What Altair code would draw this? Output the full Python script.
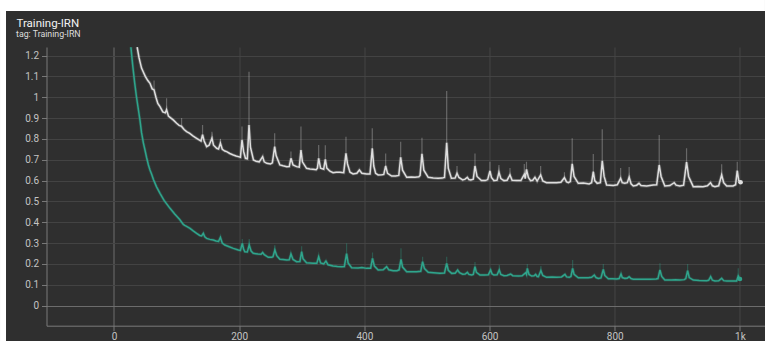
import altair as alt
import pandas as pd

# ---------------- data ----------------
white_steps = [
    37, 40, 44, 47, 50, 54, 57.5, 61, 64, 67,
    70, 73.5, 78, 82, 84, 87, 91, 95, 100, 104,
    108, 112, 116, 121, 126, 132, 136, 139, 141.5, 144,
    148, 152, 156.5, 159, 164, 167, 170, 173, 177, 180,
    185, 190.6, 195, 198.6, 202, 204.5, 207, 210, 213, 215.7,
    218, 222.8, 227, 232, 237.5, 240, 244, 250, 253, 256.7,
    259, 265, 270, 276, 280, 282.7, 286, 291.7, 296, 298.7,
    301, 307.6, 313, 318, 323, 325, 327, 330, 335, 337.6,
    340, 345, 350, 355, 361, 367, 370.6, 373, 377, 382,
    388, 392, 396, 403.6, 409, 412.6, 415, 418, 422, 428,
    431, 434, 437, 443.6, 450, 455, 458, 461, 467.6, 475,
    481, 487, 489, 492, 495, 502, 510, 518, 524, 528,
    531.5, 534, 539, 545, 548, 551, 557, 561, 564.5, 567,
    570, 574, 576.7, 580, 587, 593, 597, 600.6, 603, 607,
    612, 615, 618, 623, 628, 632.6, 636, 643, 650, 655.5,
    657, 659, 662, 665.5, 669, 672.5, 676, 681.6, 685, 691,
    700, 707, 714, 719.6, 723, 726, 729, 732, 735, 741.7,
    750, 759, 763, 765.7, 768, 772, 777, 780, 783, 787,
    792, 797.6, 804, 809.4, 812, 816, 820, 823, 826, 829.6,
    835, 838.7, 842, 851, 861.5, 867, 871, 874, 880, 888,
    895, 898, 904, 910, 914.7, 918, 925.4, 933, 941, 948,
    953, 956, 960, 966, 970.8, 974, 978.8, 985, 989, 993,
    995.7, 998, 1001,
]
white_values = [
    1.24, 1.19, 1.14, 1.12, 1.10, 1.08, 1.067, 1.04, 1.035, 1.0,
    0.97, 0.955, 0.93, 0.925, 0.94, 0.91, 0.9, 0.89, 0.875, 0.865,
    0.86, 0.845, 0.835, 0.827, 0.815, 0.803, 0.795, 0.79, 0.82, 0.79,
    0.763, 0.77, 0.803, 0.77, 0.755, 0.752, 0.779, 0.75, 0.742, 0.739,
    0.73, 0.723, 0.718, 0.715, 0.712, 0.795, 0.74, 0.707, 0.705, 0.867,
    0.76, 0.699, 0.693, 0.69, 0.715, 0.69, 0.683, 0.68, 0.685, 0.763,
    0.72, 0.675, 0.671, 0.667, 0.668, 0.707, 0.675, 0.667, 0.665, 0.747,
    0.69, 0.659, 0.656, 0.654, 0.652, 0.66, 0.707, 0.66, 0.655, 0.702,
    0.66, 0.645, 0.638, 0.64, 0.64, 0.638, 0.731, 0.68, 0.64, 0.632,
    0.635, 0.651, 0.635, 0.632, 0.632, 0.755, 0.67, 0.635, 0.627, 0.628,
    0.63, 0.67, 0.635, 0.622, 0.622, 0.625, 0.712, 0.65, 0.616, 0.617,
    0.616, 0.618, 0.625, 0.728, 0.65, 0.616, 0.613, 0.611, 0.612, 0.615,
    0.782, 0.66, 0.611, 0.612, 0.635, 0.615, 0.603, 0.607, 0.616, 0.605,
    0.603, 0.607, 0.67, 0.62, 0.6, 0.6, 0.605, 0.646, 0.615, 0.6,
    0.602, 0.64, 0.61, 0.6, 0.602, 0.627, 0.602, 0.6, 0.6, 0.63,
    0.61, 0.654, 0.615, 0.6, 0.602, 0.616, 0.598, 0.627, 0.598, 0.59,
    0.59, 0.59, 0.592, 0.614, 0.594, 0.59, 0.595, 0.68, 0.62, 0.587,
    0.588, 0.584, 0.59, 0.643, 0.6, 0.587, 0.59, 0.695, 0.62, 0.579,
    0.578, 0.577, 0.58, 0.611, 0.59, 0.587, 0.59, 0.616, 0.585, 0.574,
    0.578, 0.587, 0.576, 0.574, 0.579, 0.58, 0.675, 0.62, 0.574, 0.576,
    0.59, 0.578, 0.574, 0.578, 0.689, 0.62, 0.571, 0.572, 0.571, 0.575,
    0.59, 0.575, 0.571, 0.575, 0.627, 0.59, 0.574, 0.574, 0.574, 0.58,
    0.648, 0.6, 0.592,
]
white_raw_spike_steps = [64, 84, 108, 141.5, 156.5, 170, 204.5, 215.7, 256.7, 282.7,
                         298.7, 327, 337.6, 370.6, 412.6, 434, 458, 492, 531.5, 548,
                         576.7, 600.6, 615, 632.6, 655.5, 659, 681.6, 719.6, 732, 765.7,
                         780, 809.4, 823, 871, 914.7, 970.8, 995.7]
white_raw_spike_values = [1.08, 0.995, 0.9, 0.867, 0.835, 0.80, 0.859, 1.122, 0.827, 0.74,
                          0.859, 0.771, 0.77, 0.811, 0.851, 0.73, 0.787, 0.806, 1.03, 0.67,
                          0.73, 0.69, 0.675, 0.66, 0.68, 0.69, 0.67, 0.64, 0.803, 0.728,
                          0.846, 0.66, 0.665, 0.819, 0.755, 0.678, 0.69]

teal_steps = [
    27, 30, 33, 36, 39, 41.5, 44, 47, 49.5, 52,
    55, 57.5, 60, 63, 68, 73.5, 80, 89.5, 97, 105,
    110.7, 113, 116, 121.4, 126, 132, 137, 140, 142.7, 145,
    148, 153, 158.7, 163, 167, 170, 173, 177, 183, 190.6,
    198.6, 202, 205, 207, 209, 213, 216, 219, 222.5, 230,
    235, 237.5, 240, 246.5, 252, 254, 257, 260, 265, 270,
    276, 280, 282.7, 286, 291.7, 297, 299.8, 302, 307.6, 313,
    318, 324, 327, 330, 335, 338.6, 342, 350, 357, 363.7,
    368, 371.6, 374, 379.7, 390, 396, 403.6, 410, 413, 416,
    422, 430, 435.6, 439, 446, 452, 455.5, 458.5, 461, 467.6,
    475, 483.5, 490, 493, 496, 502, 510, 520.8, 528, 531.5,
    534, 539.5, 545, 549, 552, 557, 561, 564.5, 567, 571.4,
    574, 576.7, 579, 584.7, 592, 598, 601.7, 604, 607, 612,
    615.5, 618, 623, 628, 633.7, 637, 646, 652, 657.7, 659,
    660.3, 663, 667.3, 671, 673.6, 676, 678, 682, 685, 691,
    700, 707, 715, 720.4, 723, 727.3, 730, 732.7, 735, 741.7,
    750, 757.7, 763, 767.3, 770, 773.7, 778, 781.7, 784, 789.7,
    796, 803, 807, 810, 812, 816.3, 820, 823, 826, 829.6,
    840, 848, 856, 866, 869, 872.2, 875, 880, 890, 897,
    904, 911, 913.5, 916.4, 919, 925.4, 935, 946.8, 950, 953.2,
    956, 960, 966, 970.8, 974, 978.8, 986, 994.7, 997.3, 1000,
]
teal_values = [
    1.24, 1.15, 1.07, 1.0, 0.94, 0.89, 0.83, 0.78, 0.747, 0.712,
    0.675, 0.651, 0.632, 0.605, 0.57, 0.539, 0.505, 0.467, 0.44, 0.413,
    0.39, 0.385, 0.38, 0.371, 0.36, 0.347, 0.337, 0.335, 0.347, 0.33,
    0.323, 0.318, 0.315, 0.31, 0.308, 0.328, 0.30, 0.291, 0.284, 0.275,
    0.267, 0.265, 0.299, 0.272, 0.259, 0.258, 0.291, 0.262, 0.251, 0.248,
    0.247, 0.255, 0.245, 0.232, 0.232, 0.235, 0.267, 0.24, 0.223, 0.221,
    0.219, 0.22, 0.248, 0.222, 0.211, 0.212, 0.259, 0.225, 0.206, 0.205,
    0.203, 0.203, 0.235, 0.205, 0.2, 0.214, 0.196, 0.19, 0.188, 0.187,
    0.188, 0.25, 0.205, 0.182, 0.181, 0.183, 0.179, 0.18, 0.227, 0.19,
    0.171, 0.172, 0.187, 0.172, 0.168, 0.168, 0.172, 0.222, 0.185, 0.163,
    0.163, 0.163, 0.165, 0.211, 0.178, 0.16, 0.158, 0.155, 0.157, 0.203,
    0.17, 0.155, 0.156, 0.171, 0.158, 0.151, 0.152, 0.16, 0.15, 0.147,
    0.15, 0.187, 0.16, 0.147, 0.147, 0.148, 0.171, 0.152, 0.147, 0.148,
    0.171, 0.15, 0.144, 0.145, 0.152, 0.144, 0.142, 0.143, 0.158, 0.15,
    0.179, 0.15, 0.142, 0.143, 0.15, 0.14, 0.139, 0.168, 0.145, 0.136,
    0.137, 0.136, 0.138, 0.15, 0.138, 0.136, 0.14, 0.179, 0.15, 0.134,
    0.134, 0.134, 0.136, 0.147, 0.135, 0.131, 0.133, 0.174, 0.145, 0.129,
    0.129, 0.128, 0.13, 0.152, 0.135, 0.131, 0.132, 0.139, 0.13, 0.127,
    0.127, 0.127, 0.127, 0.128, 0.13, 0.171, 0.14, 0.123, 0.123, 0.124,
    0.123, 0.125, 0.13, 0.168, 0.135, 0.123, 0.121, 0.12, 0.122, 0.139,
    0.122, 0.118, 0.119, 0.131, 0.12, 0.118, 0.118, 0.118, 0.142, 0.128,
]
teal_raw_spike_steps = [205, 216, 257, 299.8, 371.6, 413, 458.5, 493, 531.5, 576.7,
                        615.5, 660.3, 682, 732.7, 781.7, 872.2, 916.4, 997.3]
teal_raw_spike_values = [0.32, 0.32, 0.29, 0.285, 0.299, 0.255, 0.275, 0.235, 0.235, 0.21,
                         0.195, 0.2, 0.19, 0.219, 0.2, 0.203, 0.2, 0.179]

x_ticks = [0, 200, 400, 600, 800, 1000]
y_ticks = [0, 0.1, 0.2, 0.3, 0.4, 0.5, 0.6, 0.7, 0.8, 0.9, 1.0, 1.1, 1.2]
title_text = "Training-IRN"
subtitle_text = "tag: Training-IRN"

# ---------------- tables ----------------
df_white = pd.DataFrame({"step": white_steps, "value": white_values})
df_teal = pd.DataFrame({"step": teal_steps, "value": teal_values})
w_lookup = dict(zip(white_steps, white_values))
t_lookup = dict(zip(teal_steps, teal_values))
df_white_sp = pd.DataFrame({"step": white_raw_spike_steps,
                            "value": [w_lookup[s] for s in white_raw_spike_steps],
                            "raw": white_raw_spike_values})
df_teal_sp = pd.DataFrame({"step": teal_raw_spike_steps,
                           "value": [t_lookup[s] for s in teal_raw_spike_steps],
                           "raw": teal_raw_spike_values})

# ---------------- layout ----------------
W = 718.5
H = 278.7
BG = "#2f2f2f"
WHITE_C = "#dedede"
TEAL_C = "#2fa58c"

x_scale = alt.Scale(domain=[-107.8, 1040], nice=False, zero=False)
y_scale = alt.Scale(domain=[-0.096, 1.241], nice=False, zero=False)

x_axis = alt.Axis(
    values=x_ticks, title=None, grid=True,
    labelExpr="datum.value >= 1000 ? '1k' : datum.label",
    gridColor={"condition": {"test": "datum.value === 0", "value": "#6e6e6e"}, "value": "#444444"},
    gridWidth=1, domainColor="#7a7a7a", tickColor="#7a7a7a", tickSize=5,
    labelColor="#c4c4c4", labelFontSize=10, labelPadding=1, labelFont="Roboto",
    labelOverlap=False,
)
y_axis = alt.Axis(
    values=y_ticks, title=None, grid=True, format=".1~f",
    gridColor={"condition": {"test": "datum.value === 0", "value": "#6e6e6e"}, "value": "#444444"},
    gridWidth=1, domainColor="#7a7a7a", tickColor="#7a7a7a", tickSize=5,
    labelColor="#c4c4c4", labelFontSize=10, labelPadding=3, labelFont="Roboto",
    labelOverlap=False,
)

# every layer uses the very same x / y definitions so the shared axes keep their settings
X = alt.X("step:Q", scale=x_scale, axis=x_axis)
Y = alt.Y("value:Q", scale=y_scale, axis=y_axis)

white_fuzz = alt.Chart(df_white).mark_line(color="#ffffff", opacity=0.18, strokeWidth=3.2, clip=True).encode(x=X, y=Y)
white_rules = alt.Chart(df_white_sp).mark_rule(color="#ffffff", opacity=0.28, strokeWidth=1.2, clip=True).encode(
    x=X, y=Y, y2="raw:Q")
white_line = alt.Chart(df_white).mark_line(color=WHITE_C, strokeWidth=1.5, clip=True).encode(x=X, y=Y)
white_end = alt.Chart(df_white.tail(1)).mark_circle(color=WHITE_C, size=22, opacity=1).encode(x=X, y=Y)

teal_fuzz = alt.Chart(df_teal).mark_line(color=TEAL_C, opacity=0.25, strokeWidth=3, clip=True).encode(x=X, y=Y)
teal_rules = alt.Chart(df_teal_sp).mark_rule(color=TEAL_C, opacity=0.35, strokeWidth=1.2, clip=True).encode(
    x=X, y=Y, y2="raw:Q")
teal_line = alt.Chart(df_teal).mark_line(color=TEAL_C, strokeWidth=1.5, clip=True).encode(x=X, y=Y)
teal_end = alt.Chart(df_teal.tail(1)).mark_circle(color=TEAL_C, size=22, opacity=1).encode(x=X, y=Y)

# white page margin around the dark card (top and left strips)
one_row = alt.Data(values=[{"k": 1}])
strip_top = alt.Chart(one_row).mark_rect(color="#ffffff").encode(
    x=alt.value(-46.5), x2=alt.value(W), y=alt.value(-47), y2=alt.value(-36))
strip_left = alt.Chart(one_row).mark_rect(color="#ffffff").encode(
    x=alt.value(-46.5), x2=alt.value(-40.5), y=alt.value(-47), y2=alt.value(H + 20))

# card title and subtitle (top-left of the card)
title_mark = alt.Chart(alt.Data(values=[{"t": title_text}])).mark_text(
    align="left", baseline="alphabetic", font="Roboto", fontSize=11.5, color="#f2f2f2"
).encode(text="t:N", x=alt.value(-30), y=alt.value(-20))
subtitle_mark = alt.Chart(alt.Data(values=[{"t": subtitle_text}])).mark_text(
    align="left", baseline="alphabetic", font="Roboto", fontSize=8.8, color="#dddddd"
).encode(text="t:N", x=alt.value(-30.5), y=alt.value(-10.3))

chart = alt.layer(
    white_fuzz, white_rules, teal_fuzz, teal_rules,
    white_line, teal_line, white_end, teal_end,
    strip_top, strip_left, title_mark, subtitle_mark,
).properties(
    width=W, height=H,
    autosize=alt.AutoSizeParams(type="none"),
    padding={"left": 46.5, "top": 47, "right": 0, "bottom": 15},
    background=BG,
).configure_view(stroke=None)

chart.save("out.html", embed_options={"renderer": "svg", "actions": False})
